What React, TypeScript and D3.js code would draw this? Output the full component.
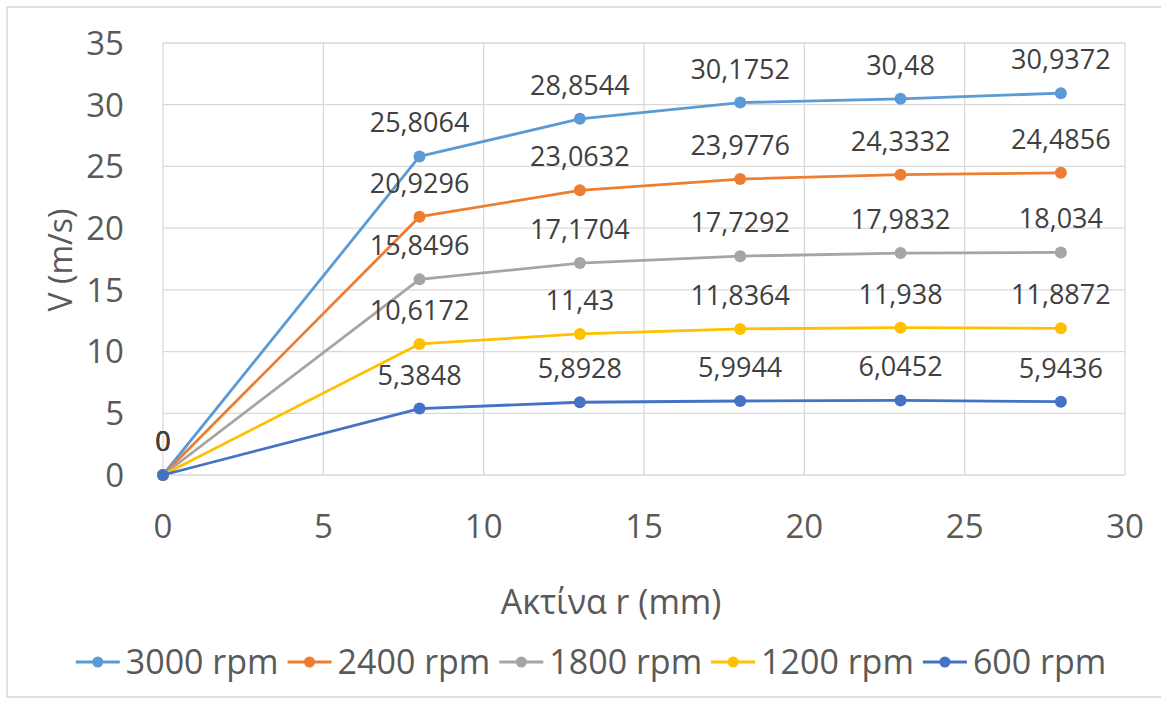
import React, { useEffect, useRef } from "react";
import * as d3 from "d3";

const radii = [0, 8, 13, 18, 23, 28];
const seriesNames = ["3000 rpm", "2400 rpm", "1800 rpm", "1200 rpm", "600 rpm"];
const v3000 = [0, 25.8064, 28.8544, 30.1752, 30.48, 30.9372];
const v2400 = [0, 20.9296, 23.0632, 23.9776, 24.3332, 24.4856];
const v1800 = [0, 15.8496, 17.1704, 17.7292, 17.9832, 18.034];
const v1200 = [0, 10.6172, 11.43, 11.8364, 11.938, 11.8872];
const v600 = [0, 5.3848, 5.8928, 5.9944, 6.0452, 5.9436];
const seriesColors = ["#5B9BD5", "#ED7D31", "#A5A5A5", "#FFC000", "#4472C4"];
const xTicks = [0, 5, 10, 15, 20, 25, 30];
const yTicks = [0, 5, 10, 15, 20, 25, 30, 35];
const xTitle = "Ακτίνα r (mm)";
const yTitle = "V (m/s)";

const FONT = "'Open Sans', sans-serif";

export default function App() {
  const ref = useRef<SVGSVGElement>(null);

  useEffect(() => {
    const svg = d3.select(ref.current);
    svg.selectAll("*").remove();
    const W = 1161, H = 702;
    const left = 163, right = 1125, top = 43, bottom = 475;
    const x = d3.scaleLinear().domain([0, 30]).range([left, right]);
    const y = d3.scaleLinear().domain([0, 35]).range([bottom, top]);

    svg.append("rect").attr("width", W).attr("height", H).attr("fill", "#fff");
    svg.append("rect").attr("x", 7).attr("y", 7).attr("width", 1170).attr("height", 690)
      .attr("fill", "none").attr("stroke", "#D9D9D9").attr("stroke-width", 1.5);

    // gridlines
    const g = svg.append("g");
    g.selectAll("line.h").data(yTicks).join("line")
      .attr("x1", left).attr("x2", right)
      .attr("y1", (d) => y(d)).attr("y2", (d) => y(d))
      .attr("stroke", "#D9D9D9").attr("stroke-width", 1.3);
    g.selectAll("line.v").data(xTicks).join("line")
      .attr("class", "v")
      .attr("y1", top).attr("y2", bottom)
      .attr("x1", (d) => x(d)).attr("x2", (d) => x(d))
      .attr("stroke", "#D9D9D9").attr("stroke-width", 1.3);

    // tick labels
    svg.append("g").selectAll("text").data(yTicks).join("text")
      .attr("x", 124).attr("y", (d) => y(d)).attr("dy", "0.36em")
      .attr("text-anchor", "end").attr("font-family", FONT).attr("font-size", 33)
      .attr("fill", "#595959").text((d) => String(d));
    svg.append("g").selectAll("text").data(xTicks).join("text")
      .attr("x", (d) => x(d)).attr("y", 538)
      .attr("text-anchor", "middle").attr("font-family", FONT).attr("font-size", 33)
      .attr("fill", "#595959").text((d) => String(d));

    // titles
    svg.append("text").attr("x", 611).attr("y", 614).attr("text-anchor", "middle")
      .attr("font-family", FONT).attr("font-size", 34).attr("fill", "#595959").text(xTitle);
    svg.append("text").attr("transform", "translate(72,260) rotate(-90)").attr("text-anchor", "middle")
      .attr("font-family", FONT).attr("font-size", 32).attr("fill", "#595959").text(yTitle);

    const allSeries = [v3000, v2400, v1800, v1200, v600];
    const line = d3.line<number>().x((_, i) => x(radii[i])).y((d) => y(d));

    allSeries.forEach((vals, si) => {
      const c = seriesColors[si];
      svg.append("path").attr("d", line(vals) as string).attr("fill", "none")
        .attr("stroke", c).attr("stroke-width", 2.8).attr("stroke-linejoin", "round");
      svg.append("g").selectAll("circle").data(vals).join("circle")
        .attr("cx", (_, i) => x(radii[i])).attr("cy", (d) => y(d)).attr("r", 6).attr("fill", c);
    });

    allSeries.forEach((vals) => {
      svg.append("g").selectAll("text").data(vals).join("text")
        .attr("x", (_, i) => x(radii[i])).attr("y", (d) => y(d) - 24)
        .attr("text-anchor", "middle").attr("font-family", FONT).attr("font-size", 27)
        .attr("fill", "#404040").text((d) => String(d).replace(".", ","));
    });

    // legend
    const lg = svg.append("g");
    let cx = 0;
    seriesNames.forEach((name, i) => {
      const it = lg.append("g");
      it.append("line").attr("x1", 0).attr("x2", 44).attr("y1", 662).attr("y2", 662)
        .attr("stroke", seriesColors[i]).attr("stroke-width", 2.8);
      it.append("circle").attr("cx", 22).attr("cy", 662).attr("r", 5.5).attr("fill", seriesColors[i]);
      const t = it.append("text").attr("x", 50).attr("y", 674).attr("font-family", FONT)
        .attr("font-size", 34).attr("fill", "#595959").text(name);
      const tw = (t.node() as SVGTextElement).getComputedTextLength();
      const w = 50 + tw;
      it.attr("transform", `translate(${cx},0)`);
      cx += w + 9;
    });
    const total = cx - 9;
    lg.attr("transform", `translate(${591 - total / 2},0)`);
  }, []);

  return (
    <svg ref={ref} width={1161} height={702}
      style={{ position: "absolute", left: 0, top: 0, display: "block" }} />
  );
}
